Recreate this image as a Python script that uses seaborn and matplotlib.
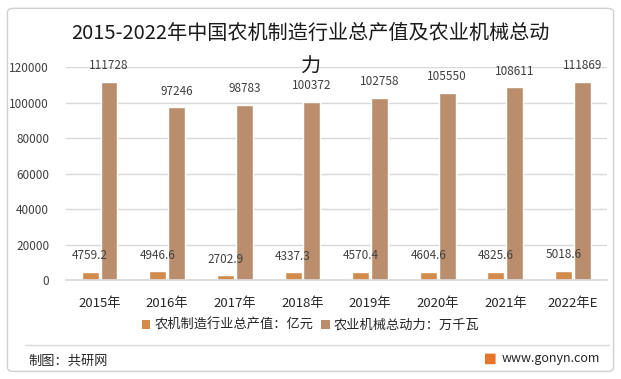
import pandas as pd
import numpy as np
import matplotlib.pyplot as plt
import seaborn as sns
from matplotlib.patches import FancyBboxPatch, Patch
from matplotlib.lines import Line2D

# 数据
years = ['2015年', '2016年', '2017年', '2018年', '2019年', '2020年', '2021年', '2022年E']
output_value = [4759.2, 4946.6, 2702.9, 4337.3, 4570.4, 4604.6, 4825.6, 5018.6]
machine_power = [111728, 97246, 98783, 100372, 102758, 105550, 108611, 111869]
series_names = ['农机制造行业总产值：亿元', '农业机械总动力：万千瓦']
colors = ['#D38B4B', '#BA8D6C']

df = pd.DataFrame({
    'year': years * 2,
    'value': output_value + machine_power,
    'series': [series_names[0]] * len(years) + [series_names[1]] * len(years),
})

sns.set_theme(style='white')
plt.rcParams['font.family'] = ['Noto Sans CJK SC', 'DejaVu Sans']

fig = plt.figure(figsize=(6.21, 3.79), dpi=100)
ax = fig.add_axes([0.106, 0.261, 0.871, 0.562])

sns.barplot(data=df, x='year', y='value', hue='series', palette=colors,
            width=0.556, gap=0.1, saturation=1, legend=False, ax=ax)

# 数值标签
for cont, vals in zip(ax.containers, [output_value, machine_power]):
    labels = [f'{v:.1f}' if isinstance(v, float) else f'{v}' for v in vals]
    ax.bar_label(cont, labels=labels, padding=7, fontsize=8.5, color='#404040')

ax.set_ylim(0, 120000)
ax.set_xlim(-0.5, 7.5)
ax.set_yticks(np.arange(0, 120001, 20000))
ax.yaxis.grid(True, color='#D9D9D9', linewidth=1)
ax.set_axisbelow(True)
for s in ['top', 'right', 'left']:
    ax.spines[s].set_visible(False)
ax.spines['bottom'].set_color('#D9D9D9')
ax.tick_params(axis='y', labelsize=8.5, labelcolor='#404040', length=0, pad=12)
ax.tick_params(axis='x', labelsize=9.5, labelcolor='#262626', length=0, pad=12)
ax.set_xlabel('')
ax.set_ylabel('')

# 标题（两行）
fig.text(0.5, 0.913, '2015-2022年中国农机制造行业总产值及农业机械总动',
         ha='center', va='center', fontsize=14.5, color='#1A1A1A')
fig.text(0.5, 0.823, '力', ha='center', va='center', fontsize=14.5, color='#1A1A1A')

handles = [Patch(facecolor=c, edgecolor='none') for c in colors]
fig.legend(handles, series_names, loc='center', bbox_to_anchor=(0.5, 0.142), ncol=2,
           frameon=False, fontsize=9.5, handlelength=0.65, handleheight=0.65,
           handletextpad=0.3, columnspacing=0.6, labelcolor='#262626')

# 分隔线、底部文字和外框
fig.add_artist(Line2D([0.04, 0.98], [0.09, 0.09], color='#D9D9D9', linewidth=1))
fig.text(0.045, 0.048, '制图：共研网', fontsize=9.5, color='#262626', va='center')
fig.text(0.966, 0.054, 'www.gonyn.com', fontsize=9, color='#262626', va='center', ha='right')
fig.add_artist(FancyBboxPatch((0.782, 0.04), 0.015, 0.026, boxstyle='round,pad=0.001',
                              facecolor='#E8742A', edgecolor='none', transform=fig.transFigure))
fig.add_artist(FancyBboxPatch((0.012, 0.02), 0.976, 0.958, boxstyle='round,pad=0,rounding_size=0.01',
                              facecolor='none', edgecolor='#D0D0D0', linewidth=1,
                              transform=fig.transFigure))

plt.savefig('out.png', dpi=100)
